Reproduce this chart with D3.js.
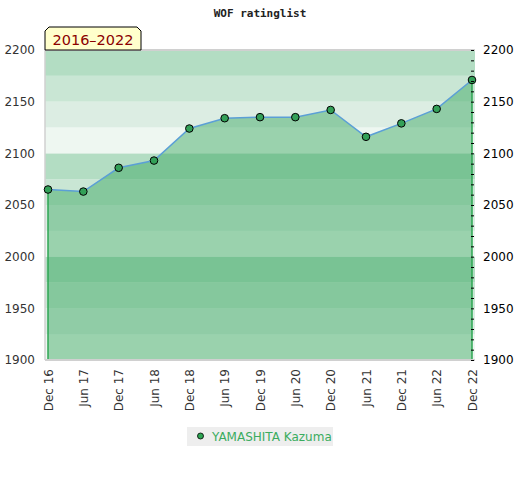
<!DOCTYPE html>
<html>
<head>
<meta charset="utf-8">
<script src="https://cdn.jsdelivr.net/npm/d3@7"></script>
<style>
  body { margin: 0; background: #fff; }
</style>
</head>
<body>
<div id="my_dataviz"></div>
<script>
// data
var periods = ["Dec 16", "Jun 17", "Dec 17", "Jun 18", "Dec 18", "Jun 19", "Dec 19",
               "Jun 20", "Dec 20", "Jun 21", "Dec 21", "Jun 22", "Dec 22"];
var ratings = [2065, 2063, 2086, 2093, 2124, 2134, 2135, 2135, 2142, 2116, 2129, 2143, 2171];
var yTicks = [1900, 1950, 2000, 2050, 2100, 2150, 2200];
var playerName = "YAMASHITA Kazuma";
var titleText = "WOF ratinglist";
var rangeText = "2016\u20132022";

var width = 520, height = 480;
var plot = {left: 45, right: 475, top: 50, bottom: 360};

var svg = d3.select("#my_dataviz")
  .append("svg")
    .attr("width", width)
    .attr("height", height)
    .style("font-family", "DejaVu Sans");

var x = d3.scalePoint()
  .domain(periods)
  .range([48, 472]);

var y = d3.scaleLinear()
  .domain([1900, 2200])
  .range([plot.bottom, plot.top]);

// background bands, every 25 points, darker at the top of each hundred
var bandColors = ["#b3ddc3", "#c9e6d4", "#dcede3", "#eef7f1"];
var bands = d3.range(1900, 2200, 25);
svg.append("g")
  .selectAll("rect")
  .data(bands)
  .enter().append("rect")
    .attr("x", plot.left)
    .attr("width", plot.right - plot.left)
    .attr("y", function(d) { return y(d + 25); })
    .attr("height", function(d) { return y(d) - y(d + 25); })
    .attr("fill", function(d) { return bandColors[3 - ((d - 1900) / 25) % 4]; });

// filled area under the rating
var pts = periods.map(function(p, i) { return {p: p, v: ratings[i]}; });

svg.append("path")
  .datum(pts)
  .attr("fill", "rgb(51,164,91)")
  .attr("fill-opacity", 0.45)
  .attr("d", d3.area()
    .x(function(d) { return x(d.p); })
    .y0(y(1900))
    .y1(function(d) { return y(d.v); }));

// green edges of the area
[pts[0], pts[pts.length - 1]].forEach(function(d) {
  svg.append("line")
    .attr("x1", x(d.p)).attr("x2", x(d.p))
    .attr("y1", y(d.v)).attr("y2", y(1900))
    .attr("stroke", "#2ea653")
    .attr("stroke-width", 1.5);
});

// frame
svg.append("line")
  .attr("x1", plot.left).attr("x2", plot.right)
  .attr("y1", plot.top).attr("y2", plot.top)
  .attr("stroke", "#d0d0d0").attr("stroke-width", 2);
svg.append("line")
  .attr("x1", plot.left).attr("x2", plot.right)
  .attr("y1", plot.bottom).attr("y2", plot.bottom)
  .attr("stroke", "#d0d0d0").attr("stroke-width", 2);
svg.append("line")
  .attr("x1", plot.left).attr("x2", plot.left)
  .attr("y1", plot.top).attr("y2", plot.bottom)
  .attr("stroke", "#d0d0d0").attr("stroke-width", 1.5);

// the line
svg.append("path")
  .datum(pts)
  .attr("fill", "none")
  .attr("stroke", "#5b9fd6")
  .attr("stroke-width", 1.5)
  .attr("d", d3.line()
    .x(function(d) { return x(d.p); })
    .y(function(d) { return y(d.v); }));

// markers
svg.append("g")
  .selectAll("circle")
  .data(pts)
  .enter().append("circle")
    .attr("cx", function(d) { return x(d.p); })
    .attr("cy", function(d) { return y(d.v); })
    .attr("r", 3.8)
    .attr("fill", "#33a058")
    .attr("stroke", "#000")
    .attr("stroke-width", 1);

// left y axis (labels only)
var leftAxis = svg.append("g")
  .attr("transform", "translate(" + plot.left + ",0)")
  .call(d3.axisLeft(y).tickValues(yTicks).tickSize(0).tickPadding(10).tickFormat(d3.format("d")));
leftAxis.select(".domain").remove();
leftAxis.selectAll("text")
  .attr("fill", "#333")
  .style("font-family", "DejaVu Sans")
  .style("font-size", "12px");

// right y axis, small ticks every 10
var rightAxis = svg.append("g")
  .attr("transform", "translate(" + (plot.right - 1) + ",0)")
  .call(d3.axisLeft(y).tickValues(d3.range(1900, 2201, 10)).tickSize(3).tickFormat(""));
rightAxis.select(".domain").remove();

var rightLabels = svg.append("g")
  .attr("transform", "translate(" + plot.right + ",0)")
  .call(d3.axisRight(y).tickValues(yTicks).tickSize(0).tickPadding(8).tickFormat(d3.format("d")));
rightLabels.select(".domain").remove();
rightLabels.selectAll("text")
  .attr("fill", "#000")
  .style("font-family", "DejaVu Sans")
  .style("font-size", "12px");

// x axis labels, rotated
var xAxis = svg.append("g")
  .attr("transform", "translate(0," + plot.bottom + ")")
  .call(d3.axisBottom(x).tickSize(0));
xAxis.select(".domain").remove();
xAxis.selectAll("text")
  .attr("fill", "#333")
  .style("font-family", "DejaVu Sans")
  .style("font-size", "12px")
  .attr("text-anchor", "end")
  .attr("dy", "0.35em")
  .attr("transform", "translate(0,9) rotate(-90)")
  .attr("y", 0)
  .attr("x", 0);

// title
svg.append("text")
  .attr("x", 260)
  .attr("y", 17)
  .attr("text-anchor", "middle")
  .style("font-family", "DejaVu Sans Mono")
  .style("font-weight", "bold")
  .style("font-size", "11px")
  .attr("fill", "#222")
  .text(titleText);

// period tag with cut corners
var tag = {x0: 45, x1: 141, y0: 27, y1: 50, c: 4};
svg.append("path")
  .attr("d", "M" + tag.x0 + "," + tag.y1 +
             "L" + tag.x0 + "," + (tag.y0 + tag.c) +
             "L" + (tag.x0 + tag.c) + "," + tag.y0 +
             "L" + (tag.x1 - tag.c) + "," + tag.y0 +
             "L" + tag.x1 + "," + (tag.y0 + tag.c) +
             "L" + tag.x1 + "," + tag.y1 + "Z")
  .attr("fill", "#ffffcc")
  .attr("stroke", "#000")
  .attr("stroke-width", 1);
svg.append("text")
  .attr("x", (tag.x0 + tag.x1) / 2)
  .attr("y", 45)
  .attr("text-anchor", "middle")
  .style("font-size", "14.5px")
  .attr("fill", "#8b0000")
  .text(rangeText);

// legend
svg.append("rect")
  .attr("x", 187).attr("y", 427)
  .attr("width", 146).attr("height", 19)
  .attr("fill", "#eeeeee");
svg.append("circle")
  .attr("cx", 200.5).attr("cy", 436)
  .attr("r", 3)
  .attr("fill", "#2ea653")
  .attr("stroke", "#000")
  .attr("stroke-width", 0.8);
svg.append("text")
  .attr("x", 212).attr("y", 440.5)
  .style("font-size", "12px")
  .attr("fill", "#3aac5e")
  .text(playerName);
</script>
</body>
</html>
